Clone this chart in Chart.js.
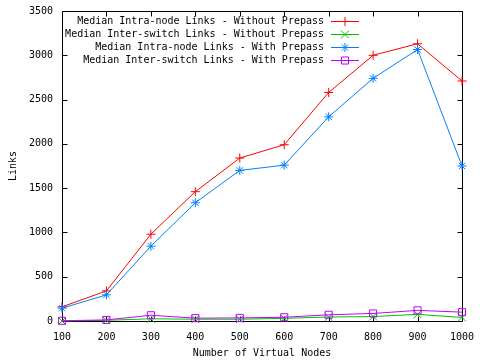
<!DOCTYPE html>
<html>
<head>
<meta charset="utf-8">
<script src="https://cdn.jsdelivr.net/npm/chart.js@4/dist/chart.umd.min.js"></script>
<style>
html,body{margin:0;padding:0;background:#fff;}
#wrap{width:480px;height:360px;}
</style>
</head>
<body>
<div id="wrap"><canvas id="c" width="480" height="360"></canvas></div>
<script>
const nodes = [100, 200, 300, 400, 500, 600, 700, 800, 900, 1000];
const intraWithout = [160, 340, 980, 1460, 1840, 1990, 2580, 3000, 3130, 2710];
const interWithout = [0, 8, 25, 20, 20, 30, 45, 50, 75, 40];
const intraWith = [145, 295, 845, 1335, 1700, 1760, 2305, 2740, 3065, 1750];
const interWith = [3, 12, 65, 32, 35, 42, 70, 85, 120, 100];
const seriesLabels = [
  'Median Intra-node Links - Without Prepass',
  'Median Inter-switch Links - Without Prepass',
  'Median Intra-node Links - With Prepass',
  'Median Inter-switch Links - With Prepass'
];
const xTitle = 'Number of Virtual Nodes';
const yTitle = 'Links';

const FONT = '"DejaVu Sans Mono", "Liberation Mono", monospace';
const colors = ['#ff0000', '#00c000', '#0080ff', '#c000ff'];
const styles = [
  {pointStyle: 'cross', radius: 4.5},
  {pointStyle: 'crossRot', radius: 5.5},
  {pointStyle: 'star', radius: 4.5},
  {pointStyle: 'rect', radius: 5}
];
const seriesValues = [intraWithout, interWithout, intraWith, interWith];

const datasets = seriesValues.map((vals, i) => ({
  label: seriesLabels[i],
  data: nodes.map((n, j) => ({x: n, y: vals[j]})),
  borderColor: colors[i],
  backgroundColor: 'transparent',
  pointBorderColor: colors[i],
  pointBackgroundColor: 'transparent',
  pointStyle: styles[i].pointStyle,
  pointRadius: styles[i].radius,
  pointBorderWidth: 1,
  borderWidth: 1,
  tension: 0,
  clip: false,
  order: 4 - i
}));

const framePlugin = {
  id: 'frame',
  beforeDatasetsDraw(chart) {
    const {ctx, chartArea: a, scales} = chart;
    ctx.save();
    ctx.strokeStyle = '#000';
    ctx.lineWidth = 1;
    ctx.beginPath();
    const L = Math.round(a.left) + 0.5, R = Math.round(a.right) + 0.5;
    const T = Math.round(a.top) + 0.5, B = Math.round(a.bottom) + 0.5;
    ctx.rect(L, T, R - L, B - T);
    const tl = 5;
    scales.y.ticks.forEach(t => {
      const y = Math.round(scales.y.getPixelForValue(t.value)) + 0.5;
      ctx.moveTo(L, y); ctx.lineTo(L + tl, y);
      ctx.moveTo(R, y); ctx.lineTo(R - tl, y);
    });
    scales.x.ticks.forEach(t => {
      const x = Math.round(scales.x.getPixelForValue(t.value)) + 0.5;
      ctx.moveTo(x, B); ctx.lineTo(x, B - tl);
      ctx.moveTo(x, T); ctx.lineTo(x, T + tl);
    });
    ctx.stroke();
    ctx.restore();
  }
};

const legendPlugin = {
  id: 'gpLegend',
  afterDraw(chart) {
    const {ctx, chartArea: a} = chart;
    ctx.save();
    ctx.font = '10px ' + FONT;
    ctx.textAlign = 'right';
    ctx.textBaseline = 'middle';
    const textRight = a.right - 138;
    const lineL = a.right - 131, lineR = a.right - 103;
    chart.data.datasets.forEach((ds, i) => {
      const y = a.top + 10 + 13 * i;
      ctx.fillStyle = '#000';
      ctx.fillText(ds.label, textRight, y);
      ctx.strokeStyle = ds.borderColor;
      ctx.lineWidth = 1;
      ctx.beginPath();
      ctx.moveTo(lineL, Math.round(y) + 0.5);
      ctx.lineTo(lineR, Math.round(y) + 0.5);
      ctx.stroke();
      if (Chart.helpers && Chart.helpers.drawPoint) {
        ctx.fillStyle = 'transparent';
        Chart.helpers.drawPoint(ctx, {pointStyle: ds.pointStyle, radius: ds.pointRadius, rotation: 0, borderWidth: 1}, (lineL + lineR) / 2, Math.round(y) + 0.5);
      }
    });
    ctx.restore();
  }
};

function zeroPad(s) {
  s.paddingLeft = 0; s.paddingRight = 0; s.paddingTop = 0; s.paddingBottom = 0;
}

new Chart(document.getElementById('c'), {
  type: 'line',
  data: {datasets},
  plugins: [framePlugin, legendPlugin],
  options: {
    responsive: false,
    animation: false,
    events: [],
    layout: {padding: {top: 11, right: 18, left: 0, bottom: 0}},
    plugins: {legend: {display: false}, tooltip: {enabled: false}},
    scales: {
      x: {
        type: 'linear',
        min: 100, max: 1000,
        grid: {display: false, drawTicks: false},
        border: {display: false},
        ticks: {stepSize: 100, color: '#000', font: {family: FONT, size: 10}, padding: 10, maxRotation: 0, autoSkip: false, callback: v => String(v)},
        title: {display: true, text: xTitle, color: '#000', font: {family: FONT, size: 10}, padding: {top: 1, bottom: 1}},
        afterFit(s) { s.height = 39; zeroPad(s); }
      },
      y: {
        type: 'linear',
        min: 0, max: 3500,
        grid: {display: false, drawTicks: false},
        border: {display: false},
        ticks: {stepSize: 500, color: '#000', font: {family: FONT, size: 10}, padding: 9, callback: v => String(v)},
        title: {display: true, text: yTitle, color: '#000', font: {family: FONT, size: 10}, padding: {top: 7, bottom: 7}},
        afterFit(s) { s.width = 62; zeroPad(s); }
      }
    }
  }
});
</script>
</body>
</html>
